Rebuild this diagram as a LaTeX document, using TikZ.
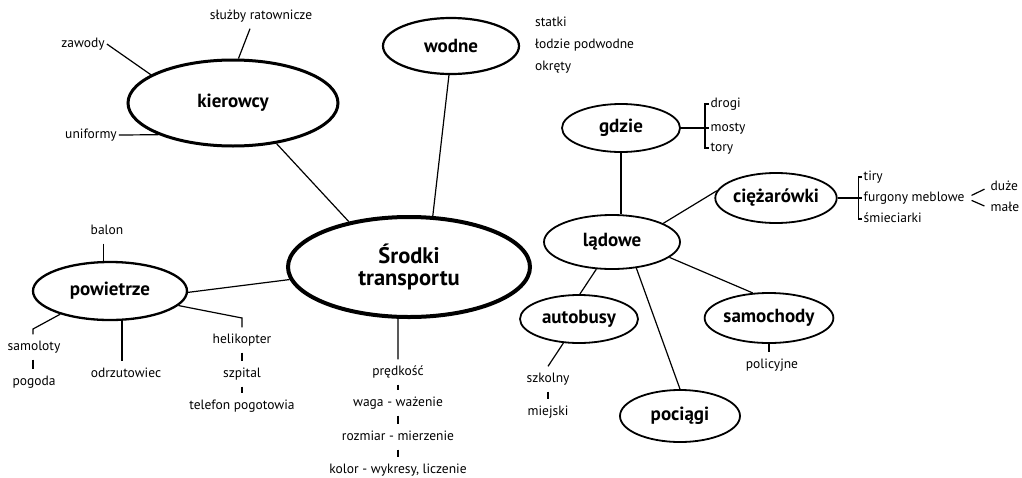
\documentclass[tikz,border=0pt]{standalone}
\usepackage{fontspec}
\setmainfont{PT Sans}
\usetikzlibrary{shapes.geometric,calc}
\begin{document}
\begin{tikzpicture}[x=1pt,y=-1pt,
  ell/.style={ellipse, draw, inner sep=0pt, line width=1.8pt, font=\bfseries\fontsize{19}{21}\selectfont},
  tx/.style={font=\fontsize{13.5}{15}\selectfont, text height=9.5pt, text depth=3pt, inner xsep=2pt, inner ysep=6.25pt},
  ln/.style={line width=1.2pt}]
\useasboundingbox (0,0) rectangle (1022,477);
% main ellipses
\node[ell, line width=4pt, minimum width=242pt, minimum height=100pt, align=center, font=\bfseries\fontsize{22.5}{21.5}\selectfont] (sr) at (409,267) {Środki\\transportu};
\node[ell, line width=3pt, minimum width=210pt, minimum height=86pt] (kier) at (233,103) {kierowcy};
\node[ell, line width=2.2pt, minimum width=136pt, minimum height=56pt] (wod) at (451,46) {wodne};
\node[ell, line width=2.3pt, minimum width=154pt, minimum height=58pt] (pow) at (110,291) {powietrze};
\node[ell, minimum width=118pt, minimum height=48pt] (gdz) at (621,128) {gdzie};
\node[ell, minimum width=118pt, minimum height=50pt] (cie) at (776,198) {ciężarówki};
\node[ell, minimum width=136pt, minimum height=54pt] (lad) at (612,242) {lądowe};
\node[ell, minimum width=118pt, minimum height=48pt] (aut) at (579,319) {autobusy};
\node[ell, minimum width=118pt, minimum height=50pt] (sam) at (769,318) {samochody};
\node[ell, minimum width=120pt, minimum height=52pt] (poc) at (680,416) {pociągi};
% text nodes
\node[tx] (zaw) at (83,44) {zawody};
\node[tx] (slu) at (261,16) {służby ratownicze};
\node[tx] (uni) at (91,135) {uniformy};
\node[tx, anchor=west] (sta) at (533,23) {statki};
\node[tx, anchor=west] (lod) at (533,45) {łodzie podwodne};
\node[tx, anchor=west] (okr) at (533,67) {okręty};
\node[tx] (bal) at (107,231) {balon};
\node[tx] (samo) at (34,347) {samoloty};
\node[tx] (pog) at (34,382) {pogoda};
\node[tx] (odr) at (126,374) {odrzutowiec};
\node[tx] (hel) at (242,340) {helikopter};
\node[tx] (szp) at (242,374) {szpital};
\node[tx] (tel) at (242,406) {telefon pogotowia};
\node[tx] (pre) at (398,372) {prędkość};
\node[tx] (wag) at (398,403) {waga - ważenie};
\node[tx] (roz) at (398,437) {rozmiar - mierzenie};
\node[tx] (kol) at (398,470) {kolor - wykresy, liczenie};
\node[tx, anchor=west, inner xsep=1.5pt] (dro) at (709,104) {drogi};
\node[tx, anchor=west, inner xsep=1.5pt] (mos) at (709,128) {mosty};
\node[tx, anchor=west, inner xsep=1.5pt] (tor) at (709,148) {tory};
\node[tx, anchor=west, inner xsep=1.5pt] (tir) at (862,177) {tiry};
\node[tx, anchor=west, inner xsep=1.5pt] (fur) at (862,198) {furgony meblowe};
\node[tx, anchor=west, inner xsep=1.5pt] (smi) at (862,219) {śmieciarki};
\node[tx, anchor=west, inner xsep=1.5pt] (duz) at (989,187) {duże};
\node[tx, anchor=west, inner xsep=1.5pt] (mal) at (989,208) {małe};
\node[tx] (szk) at (548,379) {szkolny};
\node[tx] (mie) at (548,412) {miejski};
\node[tx] (pol) at (772,365) {policyjne};
\coordinate (sk) at (33,329);
\coordinate (hk) at (242,318);
% connectors
\draw[ln] (zaw.east) -- (kier.161);
\draw[ln] ($(slu.south)+(-11,0)$) -- (kier.83);
\draw[ln] (uni.east) -- (kier.203);
\draw[ln] (kier.-43) -- (sr.143);
\draw[ln] (wod.-94) -- (sr.65);
\draw[ln] (pow.-1.5) -- (sr.186.6);
\draw[ln] (sr.-102.5) -- (pre.north);
\draw[ln] (pre.south) -- (wag.north);
\draw[ln] (wag.south) -- (roz.north);
\draw[ln] (roz.south) -- (kol.north);
\draw[ln] (pow.102 |- bal.south) -- (pow.102);
\draw[ln] (pow.205) -- (sk) -- (samo.north -| sk);
\draw[ln] (samo.south -| sk) -- (pog.north -| sk);
\draw[ln] (pow.-68) -- (pow.-68 |- odr.north);
\draw[ln] (pow.-12) -- (hk) -- (hel.north);
\draw[ln] (hel.south) -- (szp.north);
\draw[ln] (szp.south) -- (tel.north);
\draw[ln] (dro.west) -- ++(-4,0) |- (tor.west);
\draw[ln] (gdz.east) -- (mos.west);
\draw[ln] (tir.west) -- ++(-3.5,0) |- (smi.west);
\draw[ln] (cie.east) -- (fur.west);
\draw[ln, shorten <=6pt, shorten >=5pt] (fur.east) -- (duz.west);
\draw[ln, shorten <=6pt, shorten >=5pt] (fur.east) -- (mal.west);
\draw[ln] (gdz.south) -- (gdz.south |- lad.north);
\draw[ln] (lad.20) -- (cie.173);
\draw[ln] (lad.-120) -- (aut.88);
\draw[ln] (lad.-47) -- (poc.north);
\draw[ln] (lad.-15) -- (sam.123);
\draw[ln] (aut.-123) -- (szk.north);
\draw[ln] (szk.south) -- (mie.north);
\draw[ln] (sam.south) -- (sam.south |- pol.north);
\end{tikzpicture}
\end{document}
